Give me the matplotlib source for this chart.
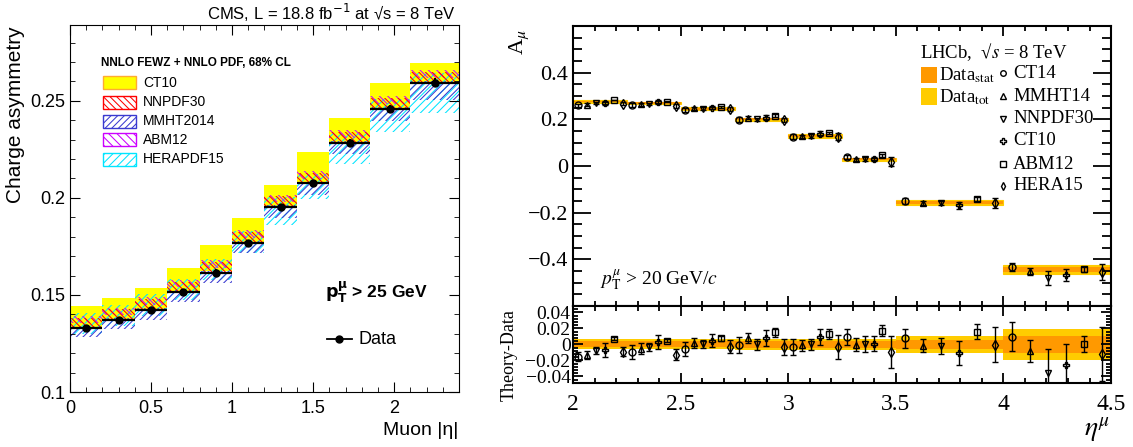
import numpy as np
import matplotlib
matplotlib.use("Agg")
import matplotlib.pyplot as plt
from matplotlib.patches import Rectangle
from matplotlib.ticker import MultipleLocator, FixedLocator, FuncFormatter

plt.rcParams["font.family"] = "Liberation Sans"
plt.rcParams["hatch.linewidth"] = 0.75

# ~~~~~ CMS charge asymmetry (left) ~~~~~
cms_edges = [0.0, 0.2, 0.4, 0.6, 0.8, 1.0, 1.2, 1.4, 1.6, 1.85, 2.1, 2.4]
cms_data = [0.1328, 0.1370, 0.1423, 0.1514, 0.1615, 0.1767, 0.1952, 0.2074, 0.2282, 0.2457, 0.2594]
cms_err = [0.0015, 0.0015, 0.0015, 0.0015, 0.0016, 0.0016, 0.0017, 0.0018, 0.0020, 0.0020, 0.0022]

ct10_lo = [0.1330, 0.1372, 0.1422, 0.1517, 0.1622, 0.1770, 0.1950, 0.2082, 0.2285, 0.2462, 0.2590]
ct10_hi = [0.1443, 0.1485, 0.1536, 0.1639, 0.1758, 0.1898, 0.2067, 0.2237, 0.2412, 0.2594, 0.2697]
nnpdf_lo = [0.1333, 0.1375, 0.1428, 0.1519, 0.1620, 0.1772, 0.1957, 0.2079, 0.2287, 0.2462, 0.2599]
nnpdf_hi = [0.1383, 0.1425, 0.1478, 0.1569, 0.1670, 0.1822, 0.2007, 0.2129, 0.2337, 0.2512, 0.2649]
mmht_lo = [0.1283, 0.1322, 0.1373, 0.1464, 0.1560, 0.1717, 0.1897, 0.2014, 0.2227, 0.2397, 0.2504]
mmht_hi = [0.1338, 0.1380, 0.1433, 0.1524, 0.1625, 0.1777, 0.1962, 0.2084, 0.2292, 0.2467, 0.2604]
abm_lo = [0.1353, 0.1395, 0.1448, 0.1539, 0.1640, 0.1792, 0.1977, 0.2099, 0.2307, 0.2482, 0.2619]
abm_hi = [0.1393, 0.1435, 0.1488, 0.1579, 0.1680, 0.1832, 0.2017, 0.2139, 0.2347, 0.2522, 0.2659]
hera_lo = [0.1298, 0.1340, 0.1393, 0.1474, 0.1575, 0.1717, 0.1862, 0.1994, 0.2172, 0.2337, 0.2438]
hera_hi = [0.1408, 0.1450, 0.1503, 0.1584, 0.1685, 0.1827, 0.2002, 0.2124, 0.2332, 0.2507, 0.2644]

# ~~~~~ LHCb muon asymmetry (right) ~~~~~
lhcb_edges = [2.0, 2.25, 2.5, 2.75, 3.0, 3.25, 3.5, 4.0, 4.5]
lhcb_data = [0.276, 0.270, 0.246, 0.200, 0.129, 0.029, -0.157, -0.443]
lhcb_stat = [0.0037, 0.0037, 0.0038, 0.0040, 0.0042, 0.0045, 0.0060, 0.0105]
lhcb_tot = [0.0062, 0.0062, 0.0064, 0.0066, 0.0068, 0.0070, 0.0110, 0.0190]

pdf_names = ["CT14", "MMHT14", "NNPDF30", "CT10", "ABM12", "HERA15"]
# theory - data and theory uncertainty, per bin
ct14_diff = [-0.0152, -0.0099, -0.0060, -0.0012, -0.0035, 0.0098, 0.0077, 0.0098]
ct14_err = [0.006, 0.009, 0.009, 0.010, 0.010, 0.010, 0.012, 0.018]
mmht14_diff = [-0.0130, -0.0056, 0.0020, 0.0077, -0.0010, -0.0006, -0.0015, -0.0081]
mmht14_err = [0.005, 0.007, 0.006, 0.006, 0.007, 0.008, 0.0085, 0.014]
nnpdf30_diff = [-0.0077, -0.0037, 0.0000, 0.0000, 0.0000, 0.0010, -0.0020, -0.0360]
nnpdf30_err = [0.004, 0.005, 0.005, 0.007, 0.007, 0.010, 0.010, 0.030]
ct10_diff = [-0.0071, 0.0027, 0.0046, 0.0077, 0.0090, 0.0010, -0.0110, -0.0256]
ct10_err = [0.009, 0.009, 0.008, 0.010, 0.010, 0.009, 0.015, 0.026]
abm12_diff = [0.0069, 0.0046, 0.0075, 0.0152, 0.0128, 0.0170, 0.0160, 0.0000]
abm12_err = [0.002, 0.002, 0.003, 0.0056, 0.006, 0.007, 0.0095, 0.010]
hera15_diff = [-0.0090, -0.0130, -0.0027, -0.0027, -0.0027, -0.0098, -0.0006, -0.0120]
hera15_err = [0.006, 0.007, 0.008, 0.010, 0.015, 0.020, 0.022, 0.034]

diffs = [ct14_diff, mmht14_diff, nnpdf30_diff, ct10_diff, abm12_diff, hera15_diff]
errs = [ct14_err, mmht14_err, nnpdf30_err, ct10_err, abm12_err, hera15_err]
markers = ["o", "^", "v", "P", "s", "d"]

SERIF = "Liberation Serif"


def gfmt(v, p):
    if abs(v) < 1e-9:
        return "0"
    return f"{v:g}".replace("-", "\u2212")


fig = plt.figure(figsize=(11.33, 4.47), dpi=100)

"""~~~~~~ Left: CMS ~~~~~~"""
axL = fig.add_axes([0.0618, 0.1230, 0.3433, 0.8210])
e = np.array(cms_edges)
left = e[:-1]
w = np.diff(e)
ctr = left + w / 2

def band(ax, lo, hi, **kw):
    lo = np.array(lo)
    hi = np.array(hi)
    ax.bar(left, hi - lo, width=w, bottom=lo, align="edge", **kw)

band(axL, ct10_lo, ct10_hi, color="#ffff00", lw=0)
band(axL, hera_lo, hera_hi, facecolor="none", edgecolor="#00e5ff", hatch="////", lw=0)
band(axL, mmht_lo, mmht_hi, facecolor="none", edgecolor="#3a3ad0", hatch="/////", lw=0)
band(axL, abm_lo, abm_hi, facecolor="none", edgecolor="#cc00ff", hatch="\\\\\\\\", lw=0)
band(axL, nnpdf_lo, nnpdf_hi, facecolor="none", edgecolor="#ff0000", hatch="\\\\\\\\\\", lw=0)
axL.errorbar(ctr, cms_data, xerr=w / 2, yerr=cms_err, fmt="o", color="k", ms=5,
             elinewidth=1.6, capsize=0)

axL.set_xlim(0, 2.4)
axL.set_ylim(0.1, 0.289)
axL.xaxis.set_major_locator(MultipleLocator(0.5))
axL.xaxis.set_minor_locator(MultipleLocator(0.1))
axL.yaxis.set_major_locator(MultipleLocator(0.05))
axL.yaxis.set_minor_locator(MultipleLocator(0.01))
axL.xaxis.set_major_formatter(FuncFormatter(gfmt))
axL.yaxis.set_major_formatter(FuncFormatter(gfmt))
axL.tick_params(which="both", direction="in", top=True, right=True, labelsize=13)
axL.tick_params(which="major", length=7)
axL.tick_params(which="minor", length=3.5)
axL.tick_params(axis="x", pad=6)

tl = axL.transAxes
axL.text(0.079, 0.897, "NNLO FEWZ + NNLO PDF, 68% CL", transform=tl, fontsize=8.5,
         fontweight="bold", va="center")
leg = [("CT10", dict(facecolor="#ffff00", edgecolor="#ffaa33")),
       ("NNPDF30", dict(facecolor="none", edgecolor="#ff0000", hatch="\\\\\\\\\\")),
       ("MMHT2014", dict(facecolor="none", edgecolor="#3a3ad0", hatch="/////")),
       ("ABM12", dict(facecolor="none", edgecolor="#cc00ff", hatch="\\\\\\\\")),
       ("HERAPDF15", dict(facecolor="none", edgecolor="#00e5ff", hatch="////"))]
rows = [0.843, 0.789, 0.738, 0.687, 0.634]
for (name, kw), fy in zip(leg, rows):
    axL.add_patch(Rectangle((0.084, fy - 0.0177), 0.086, 0.0354, transform=tl, lw=1, **kw))
    axL.text(0.187, fy, name, transform=tl, fontsize=10, va="center")

axL.text(0.656, 0.27, r"$\mathbf{p}_{\mathbf{T}}^{\mathbf{\mu}}$ > 25 GeV", transform=tl,
         fontsize=12.5, fontweight="bold", va="center", math_fontfamily="dejavusans")
axL.plot([0.661, 0.724], [0.144, 0.144], transform=tl, color="k", lw=1.3)
axL.plot([0.6925], [0.144], "o", transform=tl, color="k", ms=5)
axL.text(0.741, 0.144, "Data", transform=tl, fontsize=13, va="center")

fig.text(0.4025, 0.971, "CMS, L = 18.8 fb$^{-1}$ at \u221as = 8 TeV", ha="right",
         va="center", fontsize=12, math_fontfamily="dejavusans")
fig.text(0.014, 0.94, "Charge asymmetry", rotation=90, ha="center", va="top", fontsize=15)
fig.text(0.405, 0.038, "Muon |\u03b7|", ha="right", va="center", fontsize=14)

"""~~~~~~ Right: LHCb ~~~~~~"""
axU = fig.add_axes([0.5060, 0.3154, 0.4746, 0.6264])
axD = fig.add_axes([0.5060, 0.1438, 0.4746, 0.1716], sharex=axU)

er = np.array(lhcb_edges)
lr = er[:-1]
wr = np.diff(er)
dat = np.array(lhcb_data)
st = np.array(lhcb_stat)
tt = np.array(lhcb_tot)

axU.bar(lr, 2 * tt, width=wr, bottom=dat - tt, align="edge", color="#ffcc00", lw=0.8,
        edgecolor="#ffcc00")
axU.bar(lr, 2 * st, width=wr, bottom=dat - st, align="edge", color="#ff9900", lw=0)
axD.bar(lr, 2 * tt, width=wr, bottom=-tt, align="edge", color="#ffcc00", lw=0)
axD.bar(lr, 2 * st, width=wr, bottom=-st, align="edge", color="#ff9900", lw=0)

for k in range(6):
    x = lr + (k + 0.5) * wr / 6
    d = np.array(diffs[k])
    er_k = np.array(errs[k])
    style = dict(fmt=markers[k], ms=5, mfc="none", mec="k", mew=1.0, ecolor="k",
                 elinewidth=1.0, capsize=2, capthick=1.0)
    axU.errorbar(x, dat + d, yerr=er_k, **style)
    axD.errorbar(x, d, yerr=er_k, **style)

axU.set_xlim(2, 4.5)
axU.set_ylim(-0.6, 0.6)
axD.set_ylim(-0.048, 0.048)
axU.xaxis.set_major_locator(MultipleLocator(0.5))
axU.xaxis.set_minor_locator(MultipleLocator(0.1))
axU.yaxis.set_major_locator(FixedLocator([-0.4, -0.2, 0.0, 0.2, 0.4]))
axU.yaxis.set_minor_locator(MultipleLocator(0.05))
axD.yaxis.set_major_locator(FixedLocator([-0.04, -0.02, 0.0, 0.02, 0.04]))
axD.yaxis.set_minor_locator(MultipleLocator(0.004))
axU.yaxis.set_major_formatter(FuncFormatter(gfmt))
axD.yaxis.set_major_formatter(FuncFormatter(gfmt))
axD.xaxis.set_major_formatter(FuncFormatter(gfmt))

for ax in (axU, axD):
    for s in ax.spines.values():
        s.set_linewidth(1.5)
    ax.tick_params(which="both", direction="in", top=True, right=True,
                   labelfontfamily=SERIF, width=1.3)
axU.tick_params(axis="x", which="major", length=7)
axU.tick_params(axis="x", which="minor", length=3.5)
axU.tick_params(axis="y", which="major", length=13, labelsize=16)
axU.tick_params(axis="y", which="minor", length=6.5)
axU.tick_params(axis="x", labelbottom=False)
axD.tick_params(axis="x", which="major", length=7, labelsize=17, pad=8)
axD.tick_params(axis="x", which="minor", length=3.5)
axD.tick_params(axis="y", which="major", length=7, labelsize=14, pad=2)
axD.tick_params(axis="y", which="minor", length=3.5)

tu = axU.transAxes
axU.text(0.645, 0.907, "LHCb,  \u221a$s$ = 8 TeV", transform=tu, fontsize=13.5,
         family=SERIF, va="center", math_fontfamily="stix")
axU.add_patch(Rectangle((0.6465, 0.795), 0.029, 0.06, transform=tu, color="#ff9900", lw=0))
axU.add_patch(Rectangle((0.6465, 0.718), 0.029, 0.06, transform=tu, color="#ffcc00", lw=0))
axU.text(0.681, 0.825, r"Data$_{\rm stat}$", transform=tu, fontsize=13.5, family=SERIF,
         va="center", math_fontfamily="stix")
axU.text(0.681, 0.746, r"Data$_{\rm tot}$", transform=tu, fontsize=13.5, family=SERIF,
         va="center", math_fontfamily="stix")
rows_r = [0.831, 0.750, 0.668, 0.590, 0.507, 0.430]
for name, m, fy in zip(pdf_names, markers, rows_r):
    axU.plot([0.7986], [fy], m, transform=tu, ms=4, mfc="none", mec="k", mew=1.0)
    axU.text(0.818, fy, name, transform=tu, fontsize=13.5, family=SERIF, va="center")

axU.text(0.0496, 0.093, r"$p_{\rm T}^{\mu}$ > 20 GeV/$c$", transform=tu, fontsize=14,
         family=SERIF, va="center", math_fontfamily="stix")

fig.text(0.458, 0.905, r"A$_{\mu}$", rotation=90, ha="center", va="center", fontsize=16,
         family=SERIF, math_fontfamily="stix")
fig.text(0.449, 0.206, "Theory-Data", rotation=90, ha="center", va="center", fontsize=13,
         family=SERIF)
fig.text(0.968, 0.038, r"$\eta^{\mu}$", ha="center", va="center", fontsize=20,
         math_fontfamily="stix")

fig.savefig("out.png", dpi=100)
plt.close(fig)
